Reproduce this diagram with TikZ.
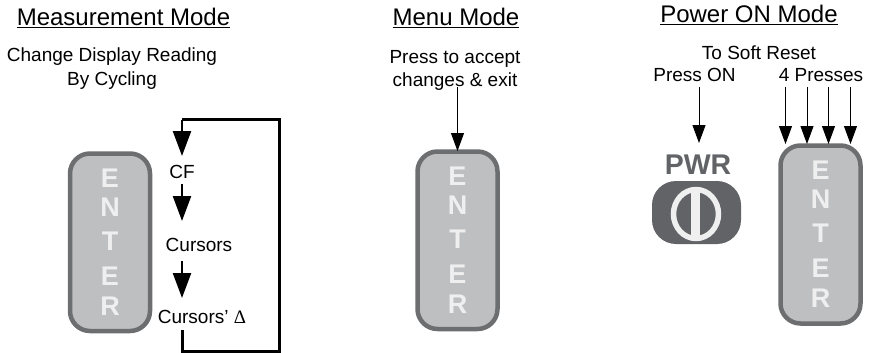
\documentclass[tikz,border=0pt]{standalone}
\usepackage{fontspec}
\setmainfont{Liberation Sans}
\newfontfamily\deltafont{Liberation Serif}
\usetikzlibrary{arrows.meta}
\definecolor{btnfill}{HTML}{BEBFC1}
\definecolor{btnedge}{HTML}{6D6E70}
\definecolor{letter}{HTML}{EFEFEF}
\definecolor{pwrgray}{HTML}{626366}
\tikzset{
  x=1pt,y=-1pt,
  lbl/.style={inner sep=0pt,font=\fontsize{19}{22}\selectfont,text=black},
  titlelbl/.style={inner sep=0pt,font=\fontsize{24}{26}\selectfont,text=black},
  enterbtn/.style={draw=btnedge,line width=4.5pt,fill=btnfill,rounded corners=20pt},
  keyletter/.style={inner sep=0pt,font=\fontsize{27}{29}\selectfont\bfseries,text=letter},
  thin arrow/.style={line width=1pt,-{Triangle[width=13pt,length=18pt]}},
  thick arrow/.style={line width=2.4pt,-{Triangle[width=18pt,length=25pt]}},
}
\newcommand{\enterkey}[3]{%
  \draw[enterbtn] (#1-40,#2) rectangle (#1+40,#3);
  \foreach \yy/\tt in {25/E,54/N,88/T,123/E,152.5/R}
    \node[keyletter] at (#1,#2+\yy) {\tt};
}
\begin{document}
\begin{tikzpicture}
\useasboundingbox (0,0) rectangle (871,353);
% titles
\node[titlelbl,anchor=base] (t1) at (123.5,26) {\underline{Measurement Mode}};
\node[titlelbl,anchor=base] (t2) at (456,26) {\underline{Menu Mode}};
\node[titlelbl,anchor=base] (t3) at (749,23) {\underline{Power ON Mode}};
% measurement
\node[lbl,anchor=base] (m1) at (112,62) {Change Display Reading};
\node[lbl,anchor=base] (m2) at (112,85) {By Cycling};
\enterkey{110}{153.5}{331}
\node[lbl,anchor=base] (cf) at (182,178) {CF};
\node[lbl,anchor=base] (cur) at (199,251) {Cursors};
\node[lbl,anchor=base] (curd) at (202,323) {Cursors' {\deltafont Δ}};
\coordinate (lt) at (182,120);
\coordinate (lb) at (182,351);
\draw[line width=3pt] (182,330) -- (lb) -- (279,351) -- (279,120) -- (lt);
\draw[thick arrow] (lt) -- (182,156);
\draw[thick arrow] (182,184) -- (182,221);
\draw[thick arrow] (182,261) -- (182,298);
% menu
\node[lbl,anchor=base] (p1) at (455,64) {Press to accept};
\node[lbl,anchor=base] (p2) at (455,87) {changes \& exit};
\enterkey{457.5}{151.5}{329}
\coordinate (pa) at (457.5,87);
\coordinate (pb) at (457.5,151);
\draw[thin arrow] (pa) -- (pb);
% power
\node[lbl,anchor=base] (s1) at (759,60) {To Soft Reset};
\node[lbl,anchor=base] (s2) at (694.5,82) {Press ON};
\node[lbl,anchor=base] (s3) at (821,82) {4 Presses};
\node[inner sep=0pt,font=\fontsize{28.5}{30}\selectfont\bfseries,text=pwrgray] (pwr) at (698,165) {PWR};
\draw[fill=pwrgray,draw=none,rounded corners=24pt] (652,181) rectangle (741,244);
\draw[draw=letter,line width=5.5pt,fill=pwrgray] (696,214) ellipse (22.5 and 24.5);
\fill[letter] (691,188) rectangle (700,240);
\enterkey{820.5}{145.5}{323.5}
\draw[thin arrow] (699,87) -- (699,143);
\foreach \xx in {785.5,807,828.5,850.5}
  \draw[thin arrow] (\xx,87) -- (\xx,144);
\end{tikzpicture}
\end{document}
